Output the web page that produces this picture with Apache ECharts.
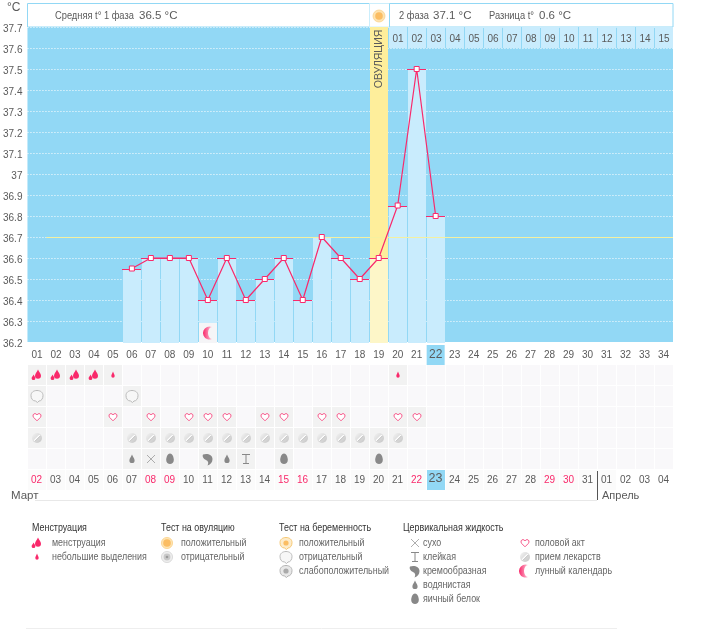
<!DOCTYPE html>
<html>
<head>
<meta charset="utf-8">
<title>BBT chart</title>
<script src="https://cdn.jsdelivr.net/npm/echarts@6/dist/echarts.min.js"></script>
<style>
  html, body { margin: 0; padding: 0; background: #fff; }
  #chart { width: 711px; height: 629px; }
</style>
</head>
<body>
<div id="chart"></div>
<script>
const cycleDays = ['01','02','03','04','05','06','07','08','09','10','11','12','13','14','15','16','17','18','19','20','21','22','23','24','25','26','27','28','29','30','31','32','33','34']
const dateLabels = ['02','03','04','05','06','07','08','09','10','11','12','13','14','15','16','17','18','19','20','21','22','23','24','25','26','27','28','29','30','31','01','02','03','04']
const redDateIndexes = [0, 6, 7, 13, 14, 20, 27, 28]
const temperatures = [null,null,null,null,null,36.55,36.6,36.6,36.6,36.4,36.6,36.4,36.5,36.6,36.4,36.7,36.6,36.5,36.6,36.85,37.5,36.8]
const phaseTwoDays = ['01','02','03','04','05','06','07','08','09','10','11','12','13','14','15']
const coverLine = [[1, 34, 36.7]]

const todayIndex = 21
const ovulationIndex = 18
const moonIndexes = [9]

// icon rows, values are indexes into cycleDays
const heavyFlow = [0, 1, 2, 3]
const lightFlow = [4, 19]
const pregnancyNegative = [0, 5]
const intercourse = [0, 4, 6, 8, 9, 10, 12, 13, 15, 16, 19, 20]
const medication = [0, 5, 6, 7, 8, 9, 10, 11, 12, 13, 14, 15, 16, 17, 18, 19]
const mucusDry = [6]
const mucusSticky = [11]
const mucusCreamy = [9]
const mucusWatery = [5, 10]
const mucusEggWhite = [7, 13, 18]

const legendTitles = ['Менструация', 'Тест на овуляцию', 'Тест на беременность', 'Цервикальная жидкость']
const legendItems = [
  [['heavy', 'менструация'], ['light', 'небольшие выделения']],
  [['ovPos', 'положительный'], ['ovNeg', 'отрицательный']],
  [['pregPos', 'положительный'], ['pregNeg', 'отрицательный'], ['pregWeak', 'слабоположительный']],
  [['dry', 'сухо'], ['sticky', 'клейкая'], ['creamy', 'кремообразная'], ['watery', 'водянистая'], ['egg', 'яичный белок']],
  [['heart', 'половой акт'], ['pill', 'прием лекарств'], ['moon', 'лунный календарь']],
]

const FONT = '"Liberation Sans", Arial, sans-serif'
const TEXT = '#5a5a5a'
const PINK = '#f9296b'
const SKY = '#92d8f5'
const PALE = '#c9ecfd'
const PLOT_LEFT = 27
const PLOT_W = 646

const dropPath = 'M0 -4.5C1 -2 2.6 -0.6 2.6 1.4A2.6 2.6 0 0 1 -2.6 1.4C-2.6 -0.6 -1 -2 0 -4.5Z'
const shieldPath = 'M0.5 6.5L-1.5 5C-4.5 5 -6 2.5 -6 -0.5C-6 -3.5 -3.5 -5.5 0 -5.5C3.5 -5.5 6 -3.5 6 -0.5C6 2.5 4.5 5 2 5Z'

// every icon is a list of zrender shapes around (0, 0)
function icon(kind) {
  const path = (d, style) => ({ type: 'path', shape: { pathData: d }, style })
  const circle = (r, style) => ({ type: 'circle', shape: { cx: 0, cy: 0, r }, style })
  const grad = (a, b) => new echarts.graphic.LinearGradient(0, 0, 1, 1, [{ offset: 0, color: a }, { offset: 1, color: b }])
  switch (kind) {
    case 'heavy':
      return [
        path('M1 -5.5C2 -2.8 4 -1.6 4 0.8A3 3 0 0 1 -2 0.8C-2 -1.6 0 -2.8 1 -5.5Z', { fill: PINK }),
        path('M-3.4 -0.6C-2.9 1 -1.6 1.8 -1.6 3.2A1.9 1.9 0 0 1 -5.4 3.2C-5.4 1.8 -3.9 1 -3.4 -0.6Z', { fill: PINK }),
      ]
    case 'light':
      return [path('M0 -3.5C0.6 -1.5 1.7 -0.6 1.7 1A1.7 1.7 0 0 1 -1.7 1C-1.7 -0.6 -0.6 -1.5 0 -3.5Z', { fill: PINK })]
    case 'heart':
      return [path('M0 3.8L-3.4 0.4C-4.7 -1.3 -3.8 -3.4 -2 -3.4C-1 -3.4 -0.3 -2.7 0 -2C0.3 -2.7 1 -3.4 2 -3.4C3.8 -3.4 4.7 -1.3 3.4 0.4Z', { fill: '#fff', stroke: '#f75a8c', lineWidth: 1 })]
    case 'pill':
      return [
        circle(5, { fill: grad('#f4f4f4', '#c4c4c4') }),
        { type: 'line', shape: { x1: -2.8, y1: 2.8, x2: 2.8, y2: -2.8 }, style: { stroke: '#fff', lineWidth: 1.4 } },
        { type: 'line', shape: { x1: -2, y1: 3.2, x2: 3.2, y2: -2 }, style: { stroke: '#aaa', lineWidth: 0.6 } },
      ]
    case 'ovPos':
      return [circle(5.6, { fill: '#fde3b0', stroke: '#fbd28a', lineWidth: 0.8 }), circle(3.8, { fill: '#fbbd62' })]
    case 'ovNeg':
      return [circle(5.6, { fill: '#ededed', stroke: '#d6d6d6', lineWidth: 0.8 }), circle(3.4, { fill: '#c8c8c8' }), circle(1.3, { fill: '#999' })]
    case 'pregPos':
      return [path(shieldPath, { fill: '#fdeccb', stroke: '#f7c873', lineWidth: 1 }), circle(2.6, { fill: '#fbbd62' })]
    case 'pregNeg':
      return [path(shieldPath, { fill: '#f7f7f7', stroke: '#bbb', lineWidth: 1 })]
    case 'pregWeak':
      return [path(shieldPath, { fill: '#e8e8e8', stroke: '#b4b4b4', lineWidth: 1 }), circle(2.6, { fill: '#aaa' })]
    case 'dry':
      return [path('M-4 -4L4 4M4 -4L-4 4', { fill: 'none', stroke: '#999', lineWidth: 0.8 })]
    case 'sticky':
      return [path('M-4 -4.5L4 -4.5M0 -4.5L0 4.5M-3 4.5L3 4.5', { fill: 'none', stroke: '#888', lineWidth: 1 })]
    case 'creamy':
      return [path('M-5 -4.5C-1 -6 4.5 -4.5 4.5 0C4.5 3 2.8 5.5 -0.5 6.5C1 3.6 0 2 -2 1C-4.6 0 -6 -2.8 -5 -4.5Z', { fill: '#888' })]
    case 'watery':
      return [path(dropPath, { fill: '#888' })]
    case 'egg':
      return [path('M0 -5.5C2.2 -5.5 3.8 -2 3.8 0.9C3.8 3.5 2 5 0 5C-2 5 -3.8 3.5 -3.8 0.9C-3.8 -2 -2.2 -5.5 0 -5.5Z', { fill: '#888' })]
    case 'moon':
      return [path('M3 -6A6.5 6.5 0 1 0 3 6A4 6 0 0 1 3 -6Z', { fill: new echarts.graphic.LinearGradient(0, 0, 1, 0, [{ offset: 0, color: PINK }, { offset: 1, color: '#fcc4d6' }]) })]
  }
  return []
}

const iconAt = (kind, x, y) => ({ type: 'group', x, y, children: icon(kind) })

// [dayIndex, rowIndex, icon kind] for the table under the plot
const rows = [
  [[heavyFlow, 'heavy'], [lightFlow, 'light']],
  [[pregnancyNegative, 'pregNeg']],
  [[intercourse, 'heart']],
  [[medication, 'pill']],
  [[mucusDry, 'dry'], [mucusSticky, 'sticky'], [mucusCreamy, 'creamy'], [mucusWatery, 'watery'], [mucusEggWhite, 'egg']],
]
const iconData = []
rows.forEach((row, r) => row.forEach(([days, kind]) => days.forEach((d) => iconData.push([d, r, kind]))))

const cellData = []
cycleDays.forEach((_, i) => {
  for (let r = 0; r < 6; r++) cellData.push([i, r])
})

const renderBar = (params, api) => {
  const i = api.value(0)
  const v = api.value(1)
  const [cx, cy] = api.coord([i, v])
  const bottom = api.coord([i, 36.2])[1] + 1
  const x = Math.round(cx - 9)
  const top = Math.round(cy)
  const isOvulation = i === ovulationIndex
  return {
    type: 'group',
    children: [
      { type: 'rect', shape: { x, y: top, width: 18, height: bottom - top }, style: { fill: isOvulation ? '#fdf6c8' : PALE } },
      { type: 'line', shape: { x1: x - 1, y1: top + 0.5, x2: x + 18, y2: top + 0.5 }, style: { stroke: PINK, lineWidth: 1 } },
    ],
  }
}

const renderOvulation = (params, api) => {
  const i = api.value(0)
  const [cx, top] = api.coord([i, 37.7])
  const v = api.coord([i, temperatures[i]])[1]
  const x = Math.round(cx - 9)
  return {
    type: 'group',
    children: [
      { type: 'rect', shape: { x, y: top, width: 18, height: v - top }, style: { fill: '#feee9b' } },
      {
        type: 'text',
        x: cx,
        y: top + 32,
        rotation: Math.PI / 2,
        style: { text: 'ОВУЛЯЦИЯ', fill: TEXT, font: '10.5px ' + FONT, align: 'center', verticalAlign: 'middle' },
      },
    ],
  }
}

const renderPhaseDay = (params, api) => {
  const i = api.value(0)
  const [cx, top] = api.coord([i, 37.7])
  const bottom = api.coord([i, 37.6])[1]
  const x = Math.round(cx - 9)
  return {
    type: 'group',
    children: [
      { type: 'rect', shape: { x, y: top, width: 18, height: bottom - top }, style: { fill: PALE } },
      {
        type: 'text',
        x: x + 9,
        y: top + 12,
        style: { text: phaseTwoDays[params.dataIndex], fill: TEXT, font: '10px ' + FONT, align: 'center', verticalAlign: 'middle' },
      },
    ],
  }
}

const renderCoverLine = (params, api) => {
  const [x1, y] = api.coord([api.value(0), api.value(2)])
  const [x2] = api.coord([api.value(1), api.value(2)])
  return { type: 'line', shape: { x1, y1: y + 0.5, x2, y2: y + 0.5 }, style: { stroke: '#f5f0a0', lineWidth: 1 } }
}

const renderMoon = (params, api) => {
  const i = api.value(0)
  const [cx, bottom] = api.coord([i, 36.2])
  const top = api.coord([i, 36.3])[1]
  const x = Math.round(cx - 9)
  return {
    type: 'group',
    children: [
      { type: 'rect', shape: { x, y: top + 2, width: 18, height: bottom - top - 1 }, style: { fill: '#f5f5f7' } },
      iconAt('moon', x + 10, top + 12),
    ],
  }
}

const renderCell = (params, api) => {
  const i = api.value(0)
  const r = api.value(1)
  const [cx, cy] = api.coord([i, r])
  let fill = '#f9f8fa'
  if (r < 5 && iconData.some((d) => d[0] === i && d[1] === r)) fill = '#f2f2f2'
  if (r === 5) fill = i === todayIndex ? SKY : (i <= 30 ? '#fbfbfb' : '#fff')
  return { type: 'rect', shape: { x: Math.round(cx - 9), y: Math.round(cy - 10), width: 18, height: 20 }, style: { fill } }
}

const renderIcon = (params, api) => {
  const [cx, cy] = api.coord([api.value(0), api.value(1)])
  return iconAt(iconData[params.dataIndex][2], Math.round(cx), Math.round(cy))
}

// legend, laid out by hand under the table
const legendX = [32, 161, 279, 403]
const iconX = [37, 167, 286, 415, 525]
const labelX = [52, 181, 299, 423, 535]
const legendIconData = []
const legendGraphics = []
// no narrow font is installed, so legend text is squeezed horizontally
const squeezed = (text, x, y, fill, scaleX) => ({
  type: 'text',
  x,
  y,
  scaleX,
  style: { text, fill, font: '10px ' + FONT, verticalAlign: 'middle' },
})
legendTitles.forEach((t, c) => {
  legendGraphics.push(squeezed(t, legendX[c], 528, '#333', 0.89))
})
legendItems.forEach((items, c) => {
  items.forEach(([kind, label], n) => {
    const y = 543 + n * 14
    legendIconData.push([iconX[c], y, kind])
    legendGraphics.push(squeezed(label, labelX[c], y, '#666', 0.89))
  })
})

const headerText = (text, x, size) => ({
  type: 'text',
  x,
  y: 16,
  style: { text, fill: TEXT, font: size + 'px ' + FONT, verticalAlign: 'middle' },
})
const headerBox = (x, w, stroke) => ({
  type: 'rect',
  shape: { x: x + 0.5, y: 3.5, width: w, height: 23.5 },
  style: { fill: '#fff', stroke, lineWidth: 1 },
})

const option = {
  animation: false,
  backgroundColor: '#fff',
  textStyle: { fontFamily: FONT },
  grid: [
    { left: PLOT_LEFT, top: 27, width: PLOT_W, height: 315, show: true, backgroundColor: SKY, borderWidth: 0 },
    { left: PLOT_LEFT, top: 365, width: PLOT_W, height: 125 },
  ],
  xAxis: [
    {
      type: 'category',
      gridIndex: 0,
      data: cycleDays,
      axisLine: { show: false },
      axisTick: { show: false },
      axisLabel: {
        interval: 0,
        margin: 3,
        formatter: (v, i) => (i === todayIndex ? `{hl|${v}}` : `{n|${v}}`),
        rich: {
          n: { color: TEXT, fontSize: 10, fontFamily: FONT, height: 20, lineHeight: 20 },
          hl: { color: TEXT, fontSize: 12, fontFamily: FONT, height: 20, lineHeight: 20, width: 18, align: 'center', backgroundColor: SKY },
        },
      },
    },
    // hidden numeric axis so the cover line can stop at column edges
    { type: 'value', gridIndex: 0, min: 0, max: 34, show: false },
    {
      type: 'category',
      gridIndex: 1,
      data: dateLabels,
      z: 5,
      axisLine: { show: false },
      axisTick: { show: false },
      axisLabel: {
        inside: true,
        interval: 0,
        margin: 5,
        color: (v, i) => (redDateIndexes.includes(i) ? PINK : TEXT),
        fontSize: 10,
        fontFamily: FONT,
        formatter: (v, i) => (i === todayIndex ? `{hl|${v}}` : v),
        rich: { hl: { color: TEXT, fontSize: 12.5, fontFamily: FONT } },
      },
    },
  ],
  yAxis: [
    {
      type: 'value',
      gridIndex: 0,
      min: 36.2,
      max: 37.7,
      interval: 0.1,
      name: '°C',
      nameGap: 13,
      nameTextStyle: { color: TEXT, fontSize: 12, fontFamily: FONT, align: 'right', padding: [0, 7, 0, 0] },
      axisLine: { show: false },
      axisTick: { show: false },
      axisLabel: {
        margin: 5,
        color: TEXT,
        fontSize: 10,
        fontFamily: FONT,
        // reference labels sit about 2px under their gridline
        verticalAlign: 'top',
        lineHeight: 4,
        formatter: (v) => String(+v.toFixed(1)),
      },
      splitLine: { lineStyle: { color: '#fff', type: [1, 2], width: 1 } },
    },
    {
      type: 'category',
      gridIndex: 1,
      inverse: true,
      data: ['flow', 'pregnancy', 'intercourse', 'medication', 'mucus', 'date'],
      show: false,
    },
  ],
  series: [
    { type: 'custom', name: 'ovulation', xAxisIndex: 0, yAxisIndex: 0, z: 2, data: [[ovulationIndex]], renderItem: renderOvulation },
    { type: 'custom', name: 'phase 2 days', xAxisIndex: 0, yAxisIndex: 0, z: 2, data: phaseTwoDays.map((_, i) => [19 + i]), renderItem: renderPhaseDay },
    {
      type: 'custom',
      name: 'bars',
      xAxisIndex: 0,
      yAxisIndex: 0,
      z: 3,
      data: temperatures.map((v, i) => [i, v]).filter((d) => d[1] !== null),
      renderItem: renderBar,
    },
    { type: 'custom', name: 'moon', xAxisIndex: 0, yAxisIndex: 0, z: 4, data: moonIndexes.map((i) => [i]), renderItem: renderMoon },
    {
      type: 'custom',
      name: 'cover line',
      xAxisIndex: 1,
      yAxisIndex: 0,
      z: 5,
      silent: true,
      data: coverLine,
      renderItem: renderCoverLine,
    },
    {
      type: 'line',
      name: 'temperature',
      xAxisIndex: 0,
      yAxisIndex: 0,
      z: 6,
      data: temperatures,
      symbol: 'rect',
      symbolSize: 5,
      showAllSymbol: true,
      connectNulls: false,
      lineStyle: { color: PINK, width: 1.2 },
      itemStyle: { color: '#fff', borderColor: PINK, borderWidth: 1 },
    },
    { type: 'custom', name: 'cells', xAxisIndex: 2, yAxisIndex: 1, z: 2, data: cellData, renderItem: renderCell },
    { type: 'custom', name: 'icons', xAxisIndex: 2, yAxisIndex: 1, z: 3, data: iconData.map((d) => [d[0], d[1]]), renderItem: renderIcon },
    {
      type: 'custom',
      name: 'legend icons',
      coordinateSystem: 'none',
      data: legendIconData.map((d) => [d[0], d[1]]),
      renderItem: (params, api) => iconAt(legendIconData[params.dataIndex][2], api.value(0), api.value(1)),
    },
  ],
  graphic: [
    headerBox(27, 342, '#92d8f5'),
    headerBox(369, 20, '#cbeefc'),
    headerBox(389, 283.5, '#92d8f5'),
    squeezed('Средняя t° 1 фаза', 55, 16, TEXT, 0.93),
    headerText('36.5 °C', 139, 11.5),
    squeezed('2 фаза', 399, 16, TEXT, 0.93),
    headerText('37.1 °C', 433, 11.5),
    squeezed('Разница t°', 489, 16, TEXT, 0.93),
    headerText('0.6 °C', 539, 11.5),
    {
      type: 'circle',
      shape: { cx: 379, cy: 16, r: 6 },
      style: { fill: '#fde3b0', stroke: '#fbd28a', lineWidth: 0.8 },
    },
    { type: 'circle', shape: { cx: 379, cy: 16, r: 3.8 }, style: { fill: '#fbbd62' } },
    { type: 'text', x: 11, y: 496, style: { text: 'Март', fill: TEXT, font: '11.5px ' + FONT, verticalAlign: 'middle' } },
    { type: 'text', x: 602, y: 496, style: { text: 'Апрель', fill: TEXT, font: '11px ' + FONT, verticalAlign: 'middle' } },
    { type: 'line', shape: { x1: 35, y1: 500.5, x2: 597, y2: 500.5 }, style: { stroke: '#e8e8e8', lineWidth: 1 } },
    { type: 'line', shape: { x1: 597.5, y1: 471, x2: 597.5, y2: 500 }, style: { stroke: '#555', lineWidth: 1 } },
    { type: 'line', shape: { x1: 26, y1: 628.5, x2: 617, y2: 628.5 }, style: { stroke: '#eee', lineWidth: 1 } },
    ...legendGraphics,
  ],
}

const chart = echarts.init(document.getElementById('chart'), null, { renderer: 'canvas' })
chart.setOption(option)
</script>
</body>
</html>
